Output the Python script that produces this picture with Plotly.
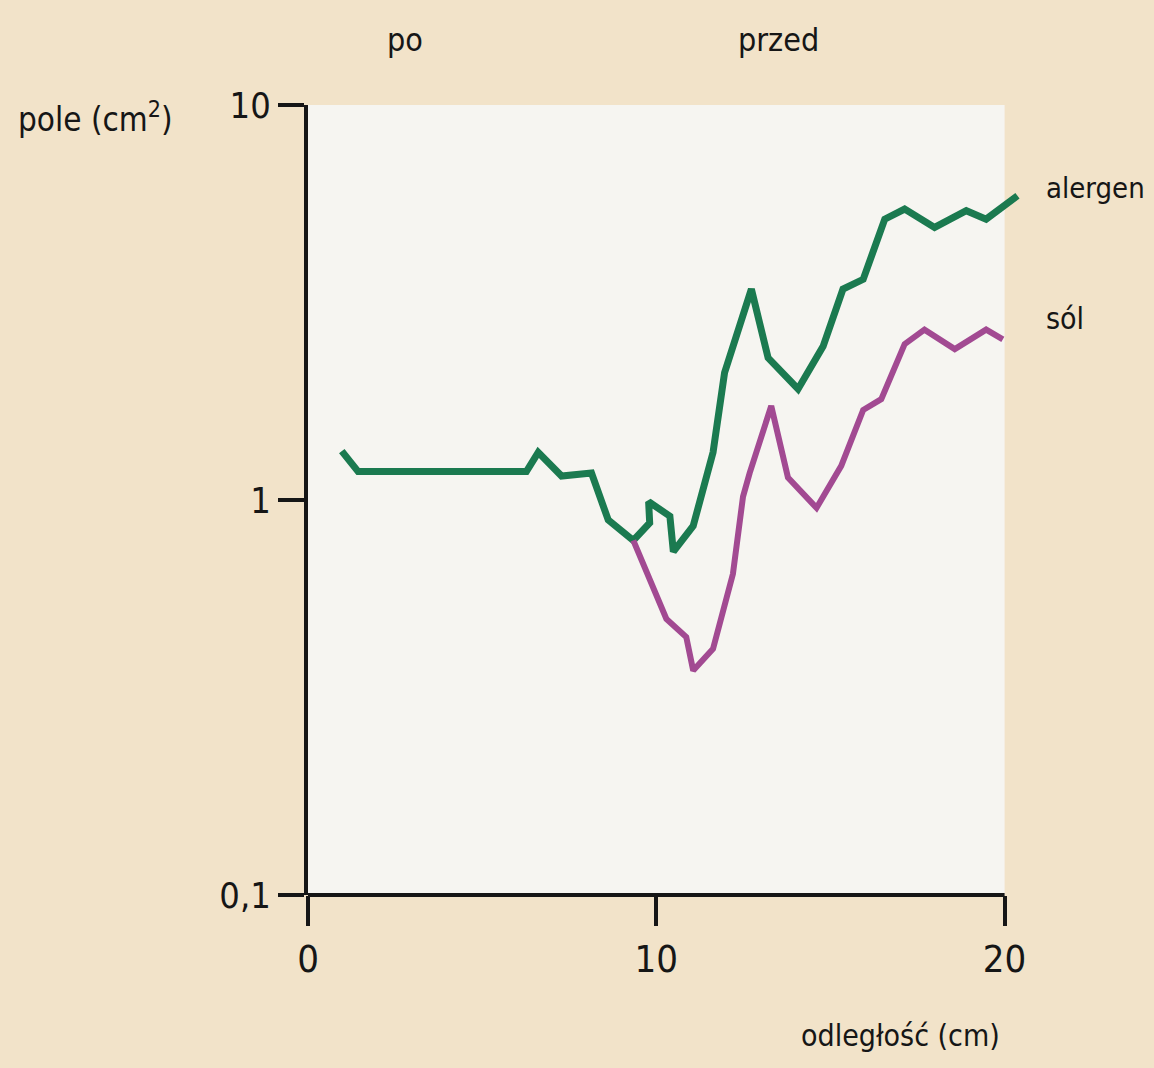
import plotly.graph_objects as go

# distance (cm) and area (cm^2) for the two responses
alergen_x = [0.97, 1.44, 6.27, 6.61, 7.28, 8.14, 8.62, 9.34, 9.81, 9.78, 10.39, 10.49,
             11.06, 11.63, 11.96, 12.73, 13.21, 14.07, 14.79, 15.36, 15.94, 16.56,
             17.13, 17.99, 18.90, 19.47, 20.37]
alergen_y = [1.33, 1.18, 1.18, 1.32, 1.15, 1.17, 0.89, 0.79, 0.875, 0.99, 0.91, 0.74,
             0.86, 1.32, 2.10, 3.42, 2.29, 1.91, 2.45, 3.42, 3.62, 5.14,
             5.45, 4.90, 5.40, 5.14, 5.89]

sol_x = [9.34, 10.29, 10.86, 11.06, 11.63, 12.20, 12.49, 12.68, 13.30, 13.78, 14.60,
         15.31, 15.94, 16.46, 17.13, 17.70, 18.57, 19.47, 19.95]
sol_y = [0.79, 0.50, 0.45, 0.37, 0.42, 0.65, 1.02, 1.17, 1.73, 1.14, 0.955,
         1.22, 1.69, 1.80, 2.48, 2.70, 2.41, 2.70, 2.55]

y_ticks = [0.1, 1, 10]
y_tick_text = ["0,1", "1", "10"]
x_ticks = [0, 10, 20]
x_tick_text = ["0", "10", "20"]

GREEN = "#1b7a50"
PURPLE = "#a24a92"
INK = "#161616"
PAPER = "#f2e3c9"
PANEL = "#f6f5f1"
FONT = "DejaVu Sans Condensed, Liberation Sans Narrow, Arial Narrow, sans-serif"

W, H = 1154, 1068
L, R, T, B = 308, 1022, 105, 895


def px(x):
    return (x - L) / (R - L)


def py(y):
    return (B - y) / (B - T)


fig = go.Figure()
fig.add_trace(go.Scatter(x=alergen_x, y=alergen_y, mode="lines",
                         line=dict(color=GREEN, width=7), cliponaxis=False))
fig.add_trace(go.Scatter(x=sol_x, y=sol_y, mode="lines",
                         line=dict(color=PURPLE, width=6), cliponaxis=False))

# light panel and the horizontal axis only span 0-20 cm
fig.add_shape(type="rect", xref="x", yref="y domain", x0=0, x1=20, y0=0, y1=1,
              fillcolor=PANEL, line_width=0, layer="below")
fig.add_shape(type="line", xref="x", yref="y domain", x0=0, x1=20, y0=0, y1=0,
              line=dict(color=INK, width=4), layer="above")

fig.update_xaxes(range=[0, 20.5], tickvals=x_ticks, ticktext=x_tick_text,
                 showgrid=False, zeroline=False, showline=False,
                 ticks="outside", ticklen=30, tickwidth=4, tickcolor=INK,
                 tickfont=dict(family=FONT, size=38, color=INK))
fig.update_yaxes(type="log", range=[-1, 1], tickvals=y_ticks, ticktext=y_tick_text,
                 showgrid=False, zeroline=False, showline=True, linecolor=INK,
                 linewidth=4, ticks="outside", ticklen=26, tickwidth=4, tickcolor=INK,
                 tickfont=dict(family=FONT, size=36, color=INK))

labels = [
    dict(text="pole (cm<sup>2</sup>)", x=16, y=118, xanchor="left", size=33),
    dict(text="po", x=405, y=40, xanchor="center", size=32),
    dict(text="przed", x=778, y=40, xanchor="center", size=32),
    dict(text="alergen", x=1044, y=188, xanchor="left", size=29),
    dict(text="sól", x=1044, y=318, xanchor="left", size=30),
    dict(text="odległość (cm)", x=1002, y=1035, xanchor="right", size=30),
]
for lb in labels:
    fig.add_annotation(text=lb["text"], xref="paper", yref="paper",
                       x=px(lb["x"]), y=py(lb["y"]), xanchor=lb["xanchor"],
                       yanchor="middle", showarrow=False,
                       font=dict(family=FONT, size=lb["size"], color=INK))

fig.update_layout(width=W, height=H, paper_bgcolor=PAPER, plot_bgcolor="rgba(0,0,0,0)",
                  showlegend=False,
                  margin=dict(l=L, r=W - R, t=T, b=H - B))

fig.write_html("out.html")
